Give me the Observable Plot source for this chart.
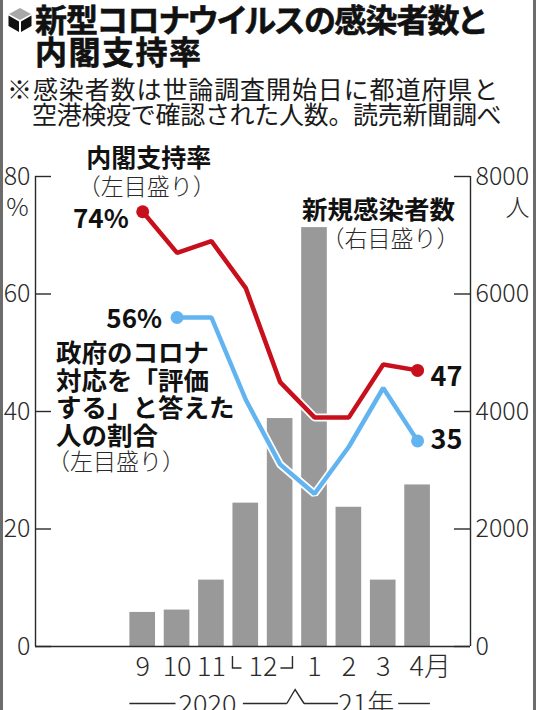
<!DOCTYPE html>
<html><head><meta charset="utf-8">
<script src="https://cdn.jsdelivr.net/npm/d3@7"></script>
<script src="https://cdn.jsdelivr.net/npm/@observablehq/plot@0.6"></script>
<style>
body{margin:0;background:#fff;}
#wrap{position:relative;width:536px;height:710px;overflow:hidden;background:#fff;font-family:"Noto Sans CJK JP","Noto Sans",sans-serif;}
.t{position:absolute;white-space:nowrap;color:#111;}
.title{font-size:32px;line-height:32px;font-weight:700;font-feature-settings:"palt";-webkit-text-stroke:0.6px #111;}
#chart{position:absolute;left:0;top:130px;}
.edge{position:absolute;top:0;width:3px;height:710px;background:#6c6c6c;}
</style></head><body>
<div id="wrap">
  <svg style="position:absolute;left:0;top:0" width="40" height="40">
    <polygon points="20,8 31,14 20,20 9,14" fill="#a8a8a8"/>
    <polygon points="8.5,15.5 19,21.5 19,32 8.5,26" fill="#111"/>
    <polygon points="21,21.5 31.5,15.5 31.5,26 21,32" fill="#111"/>
  </svg>
  <div class="t title" style="left:35px;top:2px;letter-spacing:-1px;">新型コロナウイルスの感染者数と</div>
  <div class="t title" style="left:35px;top:34px;letter-spacing:1.5px;">内閣支持率</div>
  <div class="t" style="left:7px;top:76px;font-size:25px;line-height:25px;letter-spacing:0.9px;color:#1a1a1a;">※感染者数は世論調査開始日に都道府県と</div>
  <div class="t" style="left:32px;top:101px;font-size:25px;line-height:25px;letter-spacing:-0.3px;color:#1a1a1a;">空港検疫で確認された人数。読売新聞調べ</div>
  <div id="chart"></div>
  <div class="edge" style="left:0"></div>
  <div class="edge" style="left:533px"></div>
</div>
<script>
// ---- data ----
const idx = [0, 1, 2, 3, 4, 5, 6, 7, 8];
const surveys = ["2020-09", "2020-10", "2020-11", "2020-12a", "2020-12b", "2021-01", "2021-02", "2021-03", "2021-04"];
const newCases = [580, 620, 1130, 2440, 3880, 7130, 2370, 1130, 2750];
const cabinetApproval = [74, 67, 69, 61, 45, 39, 39, 48, 47];
const coronaResponse = [null, 56, 56, 42, 31, 26, 34, 44, 35];
const monthLabels = ["9", "10", "11", "", "", "1", "2", "3", "4月"];
const leftTicks = [0, 20, 40, 60, 80];
const rightTicks = [0, 2000, 4000, 6000, 8000];

const FONT = '"Noto Sans CJK JP","Noto Sans",sans-serif';
const RED = "#c8101c", BLUE = "#62b4f0", GRAY = "#999999", INK = "#2a2a2a";
const X0 = -3.12, X1 = 9.54;
const pxPerUnit = (536 - 35 - 66) / (X1 - X0);
const tickLen = 16 / pxPerUnit;
const halfBar = 0.373;

const bars = idx.map(i => ({i, cases: newCases[i], label: surveys[i]}));
const red = idx.map(i => ({i, v: cabinetApproval[i]}));
const blue = idx.filter(i => coronaResponse[i] != null).map(i => ({i, v: coronaResponse[i]}));
const redEnds = [red[0], red[red.length - 1]];
const blueEnds = [blue[0], blue[blue.length - 1]];

const plot = Plot.plot({
  width: 536, height: 580,
  marginTop: 46, marginBottom: 64, marginLeft: 35, marginRight: 66,
  x: {type: "linear", domain: [X0, X1], axis: null},
  y: {domain: [0, 80], axis: null},
  style: {fontFamily: FONT, overflow: "visible", background: "transparent"},
  marks: [
    Plot.rectY(bars, {x1: d => d.i - halfBar, x2: d => d.i + halfBar, y1: 0, y2: d => d.cases / 100, fill: GRAY}),
    // frame
    Plot.ruleX([X0], {y1: 0, y2: 80, stroke: INK, strokeWidth: 1.4}),
    Plot.ruleX([X1], {y1: 0, y2: 80, stroke: INK, strokeWidth: 1.4}),
    Plot.ruleY([0], {x1: X0, x2: X1, stroke: INK, strokeWidth: 1.4}),
    Plot.ruleY(leftTicks, {x1: X0, x2: X0 + tickLen, stroke: INK, strokeWidth: 1.4}),
    Plot.ruleY(leftTicks, {x1: X1 - tickLen, x2: X1, stroke: INK, strokeWidth: 1.4}),
    Plot.text(leftTicks, {x: X0, y: d => d, text: d => String(d), dx: -5, textAnchor: "end", fontSize: 25, fontWeight: 300, fill: INK}),
    Plot.text(rightTicks, {x: X1, y: d => d / 100, text: d => String(d), dx: 5, textAnchor: "start", fontSize: 25, fontWeight: 300, fill: INK}),
    Plot.text(["%"], {x: X0, y: 80, text: d => d, dx: -18, dy: 31, fontSize: 25, fontWeight: 300, fill: INK}),
    Plot.text(["人"], {x: X1, y: 80, text: d => d, dx: 47, dy: 32, fontSize: 24, fontWeight: 300, fill: INK}),
    // month labels
    Plot.text(bars.filter(d => monthLabels[d.i] && monthLabels[d.i] !== "4月"), {x: "i", y: 0, text: d => monthLabels[d.i], dy: 21, fontSize: 27, fontWeight: 300, fill: INK, letterSpacing: -1}),
    Plot.text(bars.filter(d => monthLabels[d.i] === "4月"), {x: "i", y: 0, text: d => monthLabels[d.i], dx: -8, dy: 21, textAnchor: "start", fontSize: 27, fontWeight: 300, fill: INK}),
    Plot.text([3.5], {x: d => d, y: 0, text: () => "12", dy: 21, fontSize: 27, fontWeight: 300, fill: INK, letterSpacing: -1}),
    // lines with white halo
    Plot.line(blue, {x: "i", y: "v", stroke: "#fff", strokeWidth: 8, strokeLinejoin: "miter"}),
    Plot.line(blue, {x: "i", y: "v", stroke: BLUE, strokeWidth: 4.5, strokeLinejoin: "miter"}),
    Plot.dot(blueEnds, {x: "i", y: "v", r: 6.5, fill: BLUE}),
    Plot.line(red, {x: "i", y: "v", stroke: "#fff", strokeWidth: 8, strokeLinejoin: "miter"}),
    Plot.line(red, {x: "i", y: "v", stroke: RED, strokeWidth: 4.5, strokeLinejoin: "miter"}),
    Plot.dot(redEnds, {x: "i", y: "v", r: 6.5, fill: RED}),
    // value labels
    Plot.text([red[0]], {x: "i", y: "v", text: d => d.v + "%", dx: -14, dy: 8, textAnchor: "end", fontSize: 26, fontWeight: 700, fill: "#111"}),
    Plot.text([red[red.length - 1]], {x: "i", y: "v", text: d => String(d.v), dx: 13, dy: 7, textAnchor: "start", fontSize: 27, fontWeight: 700, fill: "#111"}),
    Plot.text([blue[0]], {x: "i", y: "v", text: d => d.v + "%", dx: -15, dy: 2, textAnchor: "end", fontSize: 26, fontWeight: 700, fill: "#111"}),
    Plot.text([blue[blue.length - 1]], {x: "i", y: "v", text: d => String(d.v), dx: 13, dy: -1, textAnchor: "start", fontSize: 27, fontWeight: 700, fill: "#111"}),
    // series labels
    Plot.text([red[0]], {x: "i", y: "v", text: () => "内閣支持率", dx: 6, dy: -53, fontSize: 25, fontWeight: 700, fill: "#111"}),
    Plot.text([red[0]], {x: "i", y: "v", text: () => "（左目盛り）", dx: 4, dy: -24, fontSize: 23, fontWeight: 300, fill: INK}),
    Plot.text([blue[0]], {x: "i", y: "v", text: () => "政府のコロナ\n対応を「評価\nする」と答えた\n人の割合", dx: -121, dy: 77, textAnchor: "start", lineHeight: 1.09, fontSize: 25.5, fontWeight: 700, fill: "#111"}),
    Plot.text([blue[0]], {x: "i", y: "v", text: () => "（左目盛り）", dx: -130, dy: 145, textAnchor: "start", fontSize: 23, fontWeight: 300, fill: INK}),
    Plot.text([bars[5]], {x: "i", y: d => d.cases / 100, text: () => "新規感染者数", dx: 64, dy: -17, fontSize: 25.5, fontWeight: 700, fill: "#111"}),
    Plot.text([bars[5]], {x: "i", y: d => d.cases / 100, text: () => "（右目盛り）", dx: 76, dy: 12, fontSize: 23, fontWeight: 300, fill: INK})
  ]
});
document.getElementById("chart").appendChild(plot);

// decorative brackets under the month axis (positioned through the x scale)
const sx = plot.scale("x"), sy = plot.scale("y");
const svg = d3.select(plot);
const base = sy.apply(0);
const g = svg.append("g").attr("fill", "none").attr("stroke", INK).attr("stroke-width", 1.4);
// └12┘ bracket over the two December surveys
const bl = sx.apply(3 - halfBar), br = sx.apply(4 + halfBar);
g.append("path").attr("d", `M${bl},${base + 10}V${base + 22}H${bl + 9}`);
g.append("path").attr("d", `M${br - 12},${base + 22}H${br}V${base + 10}`);
// year row
const yr = base + 57.5;
const segs = [[-halfBar, 0.97], [2.93, 4.21], [4.71, 5.70], [7.45, 8 + halfBar]];
segs.forEach(([a, b]) => g.append("path").attr("d", `M${sx.apply(a)},${yr}H${sx.apply(b)}`));
g.append("path").attr("d", `M${sx.apply(4.21)},${yr}L${sx.apply(4.45)},${yr - 14}L${sx.apply(4.71)},${yr}`);
const tg = svg.append("g").attr("font-family", FONT).attr("font-size", 27).attr("font-weight", 300).attr("fill", INK).attr("text-anchor", "middle");
tg.append("text").attr("x", sx.apply(1.9)).attr("y", yr + 10).text("2020");
tg.append("text").attr("x", sx.apply(6.52)).attr("y", yr + 10).text("21年");
</script>
</body></html>
